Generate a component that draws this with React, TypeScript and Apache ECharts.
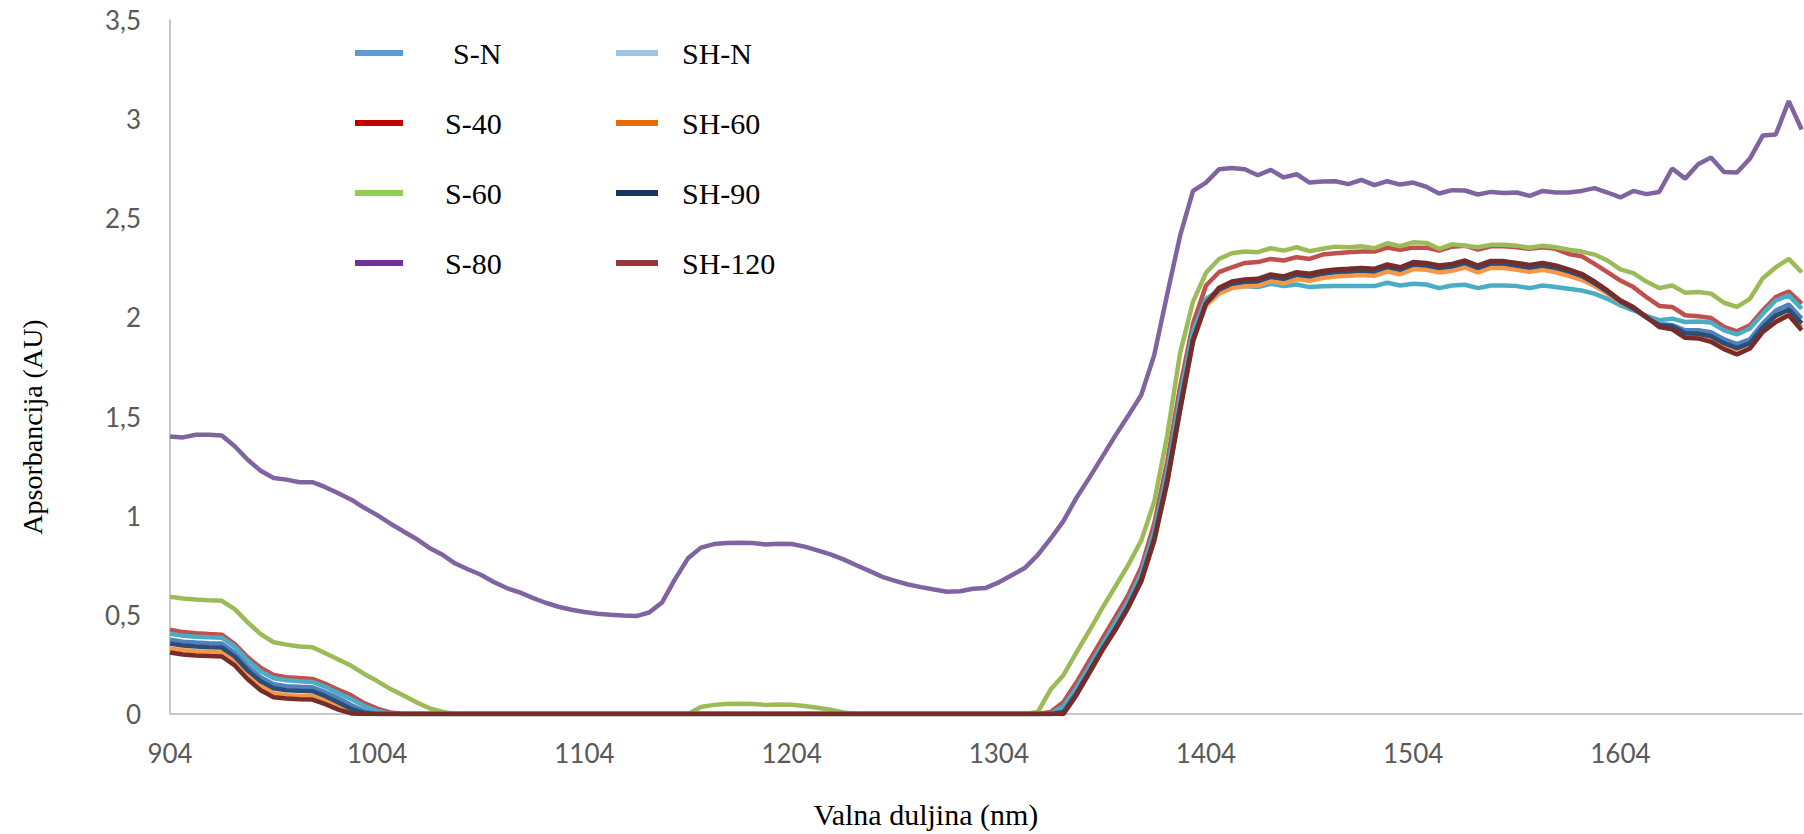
import React, { useEffect, useRef } from "react";
import * as echarts from "echarts";

// x grid: spectrometer samples every 6.25 nm starting at 904 nm
const wavelengths: number[] = Array.from({ length: 127 }, (_, i) => 904 + 6.25 * i);

const seriesNames = ["S-N", "S-40", "S-60", "S-80", "SH-N", "SH-60", "SH-90", "SH-120"];

const sN = [
  0.375, 0.365, 0.36, 0.357, 0.355, 0.31, 0.24, 0.185, 0.15, 0.14,
  0.137, 0.135, 0.11, 0.08, 0.045, 0.015, 0, 0, 0, 0,
  0, 0, 0, 0, 0, 0, 0, 0, 0, 0,
  0, 0, 0, 0, 0, 0, 0, 0, 0, 0,
  0, 0, 0, 0, 0, 0, 0, 0, 0, 0,
  0, 0, 0, 0, 0, 0, 0, 0, 0, 0,
  0, 0, 0, 0, 0, 0, 0, 0, 0, 0.02,
  0.115, 0.225, 0.335, 0.44, 0.55, 0.69, 0.9, 1.19, 1.57, 1.9,
  2.075, 2.133, 2.162, 2.172, 2.176, 2.198, 2.188, 2.209, 2.2, 2.215,
  2.222, 2.225, 2.229, 2.225, 2.247, 2.233, 2.259, 2.255, 2.242, 2.25,
  2.267, 2.242, 2.265, 2.264, 2.255, 2.245, 2.255, 2.243, 2.225, 2.205,
  2.168, 2.125, 2.078, 2.045, 2.0, 1.965, 1.962, 1.935, 1.935, 1.925,
  1.89, 1.865, 1.89, 1.97, 2.035, 2.065, 1.995,
];

const s40 = [
  0.425, 0.413, 0.407, 0.403, 0.4, 0.353, 0.286, 0.233, 0.197, 0.186,
  0.181, 0.177, 0.152, 0.122, 0.094, 0.055, 0.027, 0.008, 0, 0,
  0, 0, 0, 0, 0, 0, 0, 0, 0, 0,
  0, 0, 0, 0, 0, 0, 0, 0, 0, 0,
  0, 0, 0, 0, 0, 0, 0, 0, 0, 0,
  0, 0, 0, 0, 0, 0, 0, 0, 0, 0,
  0, 0, 0, 0, 0, 0, 0, 0, 0.01, 0.06,
  0.16, 0.27, 0.38, 0.49, 0.6, 0.74, 0.96, 1.27, 1.65, 1.97,
  2.161, 2.228, 2.253, 2.275, 2.279, 2.295, 2.287, 2.304, 2.295, 2.317,
  2.324, 2.329, 2.332, 2.332, 2.352, 2.341, 2.352, 2.352, 2.337, 2.357,
  2.362, 2.342, 2.359, 2.359, 2.354, 2.346, 2.354, 2.346, 2.32, 2.309,
  2.27, 2.228, 2.186, 2.153, 2.103, 2.058, 2.053, 2.011, 2.006, 1.997,
  1.952, 1.93, 1.96, 2.036, 2.103, 2.131, 2.069,
];

const s60 = [
  0.591, 0.583, 0.578, 0.574, 0.571, 0.529, 0.462, 0.403, 0.362, 0.35,
  0.34, 0.337, 0.306, 0.275, 0.243, 0.202, 0.166, 0.127, 0.094, 0.06,
  0.03, 0.012, 0, 0, 0, 0, 0, 0, 0, 0,
  0, 0, 0, 0, 0, 0, 0, 0, 0, 0,
  0, 0.035, 0.046, 0.05, 0.052, 0.05, 0.046, 0.048, 0.047, 0.04,
  0.032, 0.022, 0.008, 0, 0, 0, 0, 0, 0, 0,
  0, 0, 0, 0, 0, 0, 0, 0.01, 0.123, 0.197,
  0.311, 0.421, 0.535, 0.643, 0.752, 0.875, 1.07, 1.402, 1.82, 2.08,
  2.225, 2.295, 2.324, 2.332, 2.329, 2.349, 2.337, 2.354, 2.334, 2.346,
  2.357, 2.354, 2.359, 2.349, 2.374, 2.359, 2.379, 2.376, 2.346, 2.369,
  2.362, 2.354, 2.366, 2.366, 2.362, 2.351, 2.362, 2.354, 2.342, 2.332,
  2.317, 2.287, 2.242, 2.223, 2.181, 2.148, 2.161, 2.125, 2.128, 2.12,
  2.074, 2.053, 2.094, 2.198, 2.253, 2.295, 2.228,
];

const s80 = [
  1.4, 1.395, 1.408, 1.408, 1.405, 1.35, 1.282, 1.227, 1.19, 1.182,
  1.169, 1.169, 1.144, 1.113, 1.081, 1.04, 1.003, 0.961, 0.922, 0.884,
  0.839, 0.805, 0.76, 0.73, 0.702, 0.666, 0.635, 0.613, 0.586, 0.561,
  0.541, 0.526, 0.514, 0.506, 0.501, 0.497, 0.494, 0.512, 0.563, 0.68,
  0.785, 0.839, 0.857, 0.862, 0.864, 0.862, 0.855, 0.859, 0.857, 0.844,
  0.825, 0.805, 0.78, 0.75, 0.722, 0.692, 0.671, 0.653, 0.64, 0.628,
  0.617, 0.619, 0.632, 0.636, 0.664, 0.7, 0.736, 0.801, 0.884, 0.974,
  1.091, 1.192, 1.298, 1.404, 1.505, 1.609, 1.81, 2.116, 2.412, 2.638,
  2.68, 2.747, 2.754, 2.747, 2.717, 2.744, 2.706, 2.722, 2.68, 2.685,
  2.687, 2.672, 2.694, 2.667, 2.687, 2.67, 2.68, 2.659, 2.625, 2.642,
  2.64, 2.62, 2.633, 2.628, 2.63, 2.613, 2.638, 2.63, 2.63, 2.638,
  2.652, 2.63, 2.605, 2.638, 2.622, 2.633, 2.751, 2.7, 2.772, 2.806,
  2.734, 2.731, 2.801, 2.918, 2.923, 3.091, 2.948,
];

const shN = [
  0.405, 0.395, 0.39, 0.387, 0.385, 0.34, 0.27, 0.215, 0.18, 0.17,
  0.165, 0.162, 0.137, 0.105, 0.075, 0.04, 0.015, 0, 0, 0,
  0, 0, 0, 0, 0, 0, 0, 0, 0, 0,
  0, 0, 0, 0, 0, 0, 0, 0, 0, 0,
  0, 0, 0, 0, 0, 0, 0, 0, 0, 0,
  0, 0, 0, 0, 0, 0, 0, 0, 0, 0,
  0, 0, 0, 0, 0, 0, 0, 0, 0, 0.04,
  0.13, 0.24, 0.35, 0.46, 0.57, 0.71, 0.92, 1.22, 1.6, 1.93,
  2.094, 2.136, 2.153, 2.158, 2.153, 2.17, 2.158, 2.166, 2.153, 2.157,
  2.158, 2.158, 2.158, 2.158, 2.175, 2.161, 2.17, 2.166, 2.148, 2.161,
  2.165, 2.148, 2.161, 2.161, 2.158, 2.148, 2.161, 2.153, 2.145, 2.136,
  2.12, 2.094, 2.061, 2.036, 2.008, 1.986, 1.994, 1.977, 1.98, 1.974,
  1.935, 1.914, 1.944, 2.019, 2.086, 2.111, 2.044,
];

const sh60 = [
  0.33, 0.322, 0.317, 0.313, 0.31, 0.265, 0.195, 0.14, 0.105, 0.095,
  0.092, 0.09, 0.068, 0.035, 0.008, 0, 0, 0, 0, 0,
  0, 0, 0, 0, 0, 0, 0, 0, 0, 0,
  0, 0, 0, 0, 0, 0, 0, 0, 0, 0,
  0, 0, 0, 0, 0, 0, 0, 0, 0, 0,
  0, 0, 0, 0, 0, 0, 0, 0, 0, 0,
  0, 0, 0, 0, 0, 0, 0, 0, 0, 0.005,
  0.1, 0.21, 0.325, 0.427, 0.54, 0.672, 0.878, 1.17, 1.54, 1.88,
  2.06, 2.12, 2.148, 2.157, 2.16, 2.182, 2.172, 2.193, 2.185, 2.199,
  2.207, 2.21, 2.214, 2.21, 2.232, 2.218, 2.244, 2.24, 2.227, 2.235,
  2.252, 2.227, 2.25, 2.249, 2.24, 2.23, 2.24, 2.228, 2.21, 2.19,
  2.158, 2.12, 2.076, 2.045, 2.0, 1.955, 1.945, 1.905, 1.902, 1.89,
  1.855, 1.83, 1.857, 1.94, 1.99, 2.025, 1.95,
];

const sh90 = [
  0.355, 0.345, 0.34, 0.337, 0.335, 0.29, 0.22, 0.165, 0.13, 0.12,
  0.117, 0.115, 0.09, 0.058, 0.025, 0.005, 0, 0, 0, 0,
  0, 0, 0, 0, 0, 0, 0, 0, 0, 0,
  0, 0, 0, 0, 0, 0, 0, 0, 0, 0,
  0, 0, 0, 0, 0, 0, 0, 0, 0, 0,
  0, 0, 0, 0, 0, 0, 0, 0, 0, 0,
  0, 0, 0, 0, 0, 0, 0, 0, 0, 0.01,
  0.105, 0.215, 0.328, 0.432, 0.543, 0.68, 0.885, 1.18, 1.55, 1.89,
  2.07, 2.14, 2.17, 2.18, 2.183, 2.205, 2.195, 2.216, 2.208, 2.222,
  2.23, 2.233, 2.237, 2.233, 2.255, 2.241, 2.267, 2.263, 2.25, 2.258,
  2.275, 2.25, 2.273, 2.272, 2.262, 2.252, 2.262, 2.25, 2.232, 2.21,
  2.172, 2.13, 2.08, 2.045, 2.0, 1.962, 1.955, 1.92, 1.918, 1.905,
  1.87, 1.845, 1.87, 1.95, 2.01, 2.04, 1.97,
];

const sh120 = [
  0.31, 0.3, 0.295, 0.292, 0.29, 0.245, 0.175, 0.12, 0.085, 0.078,
  0.075, 0.073, 0.05, 0.022, 0.003, 0, 0, 0, 0, 0,
  0, 0, 0, 0, 0, 0, 0, 0, 0, 0,
  0, 0, 0, 0, 0, 0, 0, 0, 0, 0,
  0, 0, 0, 0, 0, 0, 0, 0, 0, 0,
  0, 0, 0, 0, 0, 0, 0, 0, 0, 0,
  0, 0, 0, 0, 0, 0, 0, 0, 0, 0,
  0.095, 0.207, 0.321, 0.423, 0.537, 0.668, 0.873, 1.165, 1.53, 1.88,
  2.07, 2.15, 2.181, 2.191, 2.195, 2.217, 2.207, 2.228, 2.22, 2.234,
  2.242, 2.245, 2.249, 2.245, 2.267, 2.253, 2.279, 2.275, 2.262, 2.27,
  2.287, 2.262, 2.285, 2.284, 2.275, 2.265, 2.275, 2.262, 2.242, 2.22,
  2.181, 2.136, 2.086, 2.053, 2.003, 1.952, 1.94, 1.897, 1.894, 1.877,
  1.84, 1.813, 1.843, 1.927, 1.977, 2.011, 1.935,
];

const seriesValues = [sN, s40, s60, s80, shN, sh60, sh90, sh120];

// colours of the plotted lines and of the legend keys (they differ in the source)
const lineColors = ["#4F81BD", "#C0504D", "#9BBB59", "#8064A2", "#4BACC6", "#F79646", "#2C4D75", "#772C2A"];
const legendColors = ["#5B9BD5", "#C00000", "#92D050", "#7030A0", "#9DC3E6", "#E46C0A", "#17375E", "#953735"];

const SERIF = "'Liberation Serif', 'Times New Roman', serif";
const SANS = "Lato, 'Open Sans', sans-serif";

export default function App() {
  const ref = useRef<HTMLDivElement>(null);

  useEffect(() => {
    if (!ref.current) return;
    const chart = echarts.init(ref.current, undefined, { renderer: "svg" });

    const legendItem = (idx: number, extraPad: number) => ({
      name: seriesNames[idx],
      icon: "rect",
      itemStyle: { color: legendColors[idx], borderWidth: 0 },
      textStyle: { padding: [0, 0, 0, extraPad] },
    });

    const legendBase = {
      orient: "vertical",
      padding: 0,
      top: 38,
      itemHeight: 6,
      itemGap: 40,
      selectedMode: false,
      textStyle: { fontFamily: SERIF, fontSize: 30, color: "#000", lineHeight: 30 },
    };

    chart.setOption({
      animation: false,
      backgroundColor: "#ffffff",
      grid: { left: 170, top: 20, right: 2.3, bottom: 117 },
      legend: [
        {
          ...legendBase,
          left: 355,
          itemWidth: 48,
          data: [legendItem(0, 45), legendItem(1, 37), legendItem(2, 37), legendItem(3, 37)],
        },
        {
          ...legendBase,
          left: 616,
          itemWidth: 42,
          data: [legendItem(4, 19), legendItem(5, 19), legendItem(6, 19), legendItem(7, 19)],
        },
      ],
      xAxis: {
        type: "category",
        data: wavelengths,
        boundaryGap: false,
        axisLine: { show: true, lineStyle: { color: "#c8c8c8", width: 2 } },
        axisTick: { show: false },
        splitLine: { show: false },
        axisLabel: { interval: 15, color: "#595959", fontFamily: SANS, fontSize: 26, margin: 26 },
        name: "Valna duljina (nm)",
        nameLocation: "middle",
        nameGap: 85,
        nameTextStyle: { fontFamily: SERIF, fontSize: 30, color: "#000", padding: [0, 120, 0, 0] },
      },
      yAxis: {
        type: "value",
        min: 0,
        max: 3.5,
        interval: 0.5,
        splitLine: { show: false },
        axisLine: { show: true, lineStyle: { color: "#c8c8c8", width: 2 } },
        axisTick: { show: false },
        axisLabel: {
          color: "#595959",
          fontFamily: SANS,
          fontSize: 26,
          margin: 29,
          formatter: (v: number) => String(v).replace(".", ","),
        },
        name: "Apsorbancija (AU)",
        nameLocation: "middle",
        nameGap: 124,
        nameTextStyle: { fontFamily: SERIF, fontSize: 28, color: "#000", padding: [0, 120, 0, 0] },
      },
      series: seriesNames.map((name, i) => ({
        name,
        type: "line",
        data: seriesValues[i],
        showSymbol: false,
        symbol: "none",
        smooth: false,
        lineStyle: { color: lineColors[i], width: 4.5 },
        itemStyle: { color: lineColors[i] },
        emphasis: { disabled: true },
      })),
    });

    return () => chart.dispose();
  }, []);

  return (
    <div
      ref={ref}
      style={{ position: "absolute", left: 0, top: 0, width: 1804, height: 834, background: "#fff" }}
    />
  );
}
